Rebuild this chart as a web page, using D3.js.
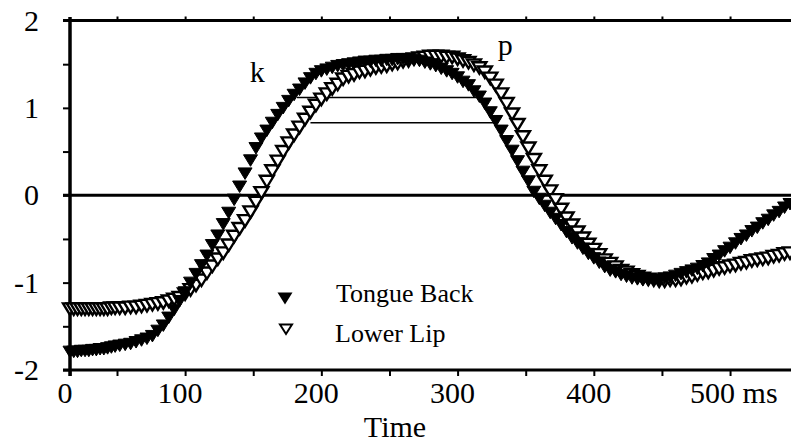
<!DOCTYPE html>
<html>
<head>
<meta charset="utf-8">
<script src="https://cdn.jsdelivr.net/npm/d3@7"></script>
<style>
  body { margin: 0; background: #fff; }
  svg text { font-family: "Liberation Serif", "Times New Roman", Times, serif; fill: #000; }
</style>
</head>
<body>
<svg width="791" height="443" font-family="Liberation Serif, Times New Roman, serif"></svg>
<script>
// sample times (ms)
const TIME = [
  0,4,8,12,16,20,24,28,32,36,
  40,44,48,52,56,60,64,68,72,76,
  80,84,88,92,96,100,104,108,112,116,
  120,124,128,132,136,140,144,148,152,156,
  160,164,168,172,176,180,184,188,192,196,
  200,204,208,212,216,220,224,228,232,236,
  240,244,248,252,256,260,264,268,272,276,
  280,284,288,292,296,300,304,308,312,316,
  320,324,328,332,336,340,344,348,352,356,
  360,364,368,372,376,380,384,388,392,396,
  400,404,408,412,416,420,424,428,432,436,
  440,444,448,452,456,460,464,468,472,476,
  480,484,488,492,496,500,504,508,512,516,
  520,524,528,532,536,540,544
];

const TONGUE_BACK = [
  -1.79,-1.79,-1.79,-1.78,-1.78,-1.78,-1.77,-1.77,-1.76,-1.76,
  -1.75,-1.74,-1.73,-1.72,-1.71,-1.70,-1.68,-1.66,-1.64,-1.61,
  -1.55,-1.49,-1.40,-1.31,-1.21,-1.11,-1.00,-0.90,-0.80,-0.69,
  -0.57,-0.46,-0.33,-0.20,-0.05,0.10,0.25,0.40,0.54,0.65,
  0.74,0.83,0.92,1.00,1.08,1.15,1.21,1.28,1.34,1.39,
  1.42,1.44,1.46,1.48,1.49,1.50,1.51,1.52,1.53,1.53,
  1.54,1.54,1.55,1.55,1.56,1.56,1.56,1.55,1.54,1.52,
  1.50,1.48,1.45,1.42,1.39,1.35,1.30,1.26,1.19,1.13,
  1.05,0.95,0.85,0.74,0.62,0.51,0.39,0.27,0.16,0.04,
  -0.04,-0.12,-0.20,-0.27,-0.34,-0.42,-0.49,-0.55,-0.61,-0.67,
  -0.72,-0.77,-0.82,-0.86,-0.88,-0.91,-0.93,-0.95,-0.96,-0.97,
  -0.97,-0.97,-0.97,-0.95,-0.94,-0.92,-0.90,-0.88,-0.86,-0.84,
  -0.81,-0.78,-0.73,-0.69,-0.64,-0.60,-0.55,-0.50,-0.46,-0.41,
  -0.37,-0.32,-0.28,-0.23,-0.19,-0.14,-0.10
];

const LOWER_LIP = [
  -1.30,-1.30,-1.30,-1.30,-1.30,-1.30,-1.30,-1.30,-1.30,-1.30,
  -1.30,-1.29,-1.29,-1.29,-1.29,-1.28,-1.28,-1.27,-1.26,-1.25,
  -1.24,-1.23,-1.21,-1.19,-1.17,-1.13,-1.08,-1.03,-0.97,-0.89,
  -0.81,-0.73,-0.66,-0.57,-0.47,-0.38,-0.29,-0.19,-0.08,0.03,
  0.16,0.28,0.39,0.50,0.60,0.69,0.78,0.87,0.95,1.03,
  1.10,1.16,1.22,1.27,1.33,1.36,1.38,1.41,1.42,1.44,
  1.46,1.47,1.48,1.50,1.51,1.53,1.54,1.56,1.57,1.58,
  1.59,1.59,1.59,1.58,1.58,1.56,1.54,1.52,1.49,1.46,
  1.41,1.34,1.26,1.16,1.05,0.93,0.81,0.67,0.54,0.41,
  0.28,0.16,0.05,-0.05,-0.16,-0.26,-0.34,-0.42,-0.49,-0.56,
  -0.62,-0.68,-0.74,-0.78,-0.82,-0.86,-0.88,-0.91,-0.93,-0.95,
  -0.96,-0.97,-0.98,-0.98,-0.97,-0.97,-0.96,-0.94,-0.93,-0.91,
  -0.89,-0.88,-0.86,-0.84,-0.83,-0.81,-0.80,-0.78,-0.77,-0.75,
  -0.74,-0.73,-0.72,-0.70,-0.69,-0.67,-0.66
];

const X_TICKS = [0,50,100,150,200,250,300,350,400,450,500];
const X_LABELS = [0,100,200,300,400,500];
const Y_TICKS = [-2,-1.5,-1,-0.5,0,0.5,1,1.5,2];
const Y_LABELS = [-2,-1,0,1,2];

// level lines: value, start ms, end ms
const LEVEL_V = [1.12, 0.83];
const LEVEL_FROM = [182, 192];
const LEVEL_TO = [315, 329];

const NOTE_TEXT = ["k", "p"];
const NOTE_T = [153, 335];
const NOTE_V = [1.30, 1.60];

const FONT = "Liberation Serif, Times New Roman, serif";

const svg = d3.select("svg");

const x = d3.scaleLinear().domain([0, 50, 544]).range([70, 117, 790]);
const y = d3.scaleLinear().domain([-2, 2]).range([370, 20.5]);

const left = 63, right = 791;

// ticks
const bottomAxis = svg.append("g")
  .attr("transform", "translate(0," + y(-2) + ")")
  .call(d3.axisBottom(x).tickValues(X_TICKS).tickSize(6).tickFormat(""));
const topAxis = svg.append("g")
  .attr("transform", "translate(0," + y(2) + ")")
  .call(d3.axisTop(x).tickValues(X_TICKS.filter(d => d > 0)).tickSize(4).tickFormat(""));
const leftAxis = svg.append("g")
  .attr("transform", "translate(" + x(0) + ",0)")
  .call(d3.axisLeft(y).tickValues(Y_TICKS).tickSize(7).tickFormat(""));

[bottomAxis, topAxis, leftAxis].forEach(g => {
  g.select(".domain").remove();
  g.selectAll(".tick line").attr("stroke", "#000").attr("stroke-width", 2);
});

// frame lines
svg.append("line").attr("x1", left).attr("x2", right).attr("y1", y(2)).attr("y2", y(2))
  .attr("stroke", "#000").attr("stroke-width", 3);
svg.append("line").attr("x1", left).attr("x2", right).attr("y1", y(-2)).attr("y2", y(-2))
  .attr("stroke", "#000").attr("stroke-width", 3);
svg.append("line").attr("x1", left).attr("x2", right).attr("y1", y(0)).attr("y2", y(0))
  .attr("stroke", "#000").attr("stroke-width", 3);
svg.append("line").attr("x1", x(0)).attr("x2", x(0)).attr("y1", 17).attr("y2", 376)
  .attr("stroke", "#000").attr("stroke-width", 3.5);

// level lines
svg.selectAll(".level")
  .data(LEVEL_V)
  .enter()
  .append("line")
  .classed("level", true)
  .attr("x1", (d, i) => x(LEVEL_FROM[i]))
  .attr("x2", (d, i) => x(LEVEL_TO[i]))
  .attr("y1", d => y(d))
  .attr("y2", d => y(d))
  .attr("stroke", "#000")
  .attr("stroke-width", 1.5);

// tick labels
svg.selectAll(".xlab")
  .data(X_LABELS)
  .enter()
  .append("text")
  .classed("xlab", true)
  .attr("font-family", FONT)
  .attr("font-size", 30)
  .attr("x", d => d === 500 ? x(d) - 40 : x(d) - 5)
  .attr("y", 403)
  .attr("text-anchor", d => d === 500 ? "start" : "middle")
  .text(d => d === 500 ? "500 ms" : d);

svg.selectAll(".ylab")
  .data(Y_LABELS)
  .enter()
  .append("text")
  .classed("ylab", true)
  .attr("font-family", FONT)
  .attr("font-size", 30)
  .attr("x", 39)
  .attr("y", d => y(d))
  .attr("dy", "0.34em")
  .attr("text-anchor", "end")
  .text(d => d);

svg.append("text")
  .attr("font-family", FONT)
  .attr("font-size", 30)
  .attr("x", 395)
  .attr("y", 437)
  .attr("text-anchor", "middle")
  .text("Time");

// markers
const triDown = "M-7,-5.5L7,-5.5L0,6Z";

svg.append("g").selectAll("path")
  .data(TIME)
  .enter()
  .append("path")
  .attr("d", triDown)
  .attr("transform", (d, i) => "translate(" + x(d) + "," + y(LOWER_LIP[i]) + ")")
  .attr("fill", "#fff")
  .attr("stroke", "#000")
  .attr("stroke-width", 2.4);

svg.append("g").selectAll("path")
  .data(TIME)
  .enter()
  .append("path")
  .attr("d", triDown)
  .attr("transform", (d, i) => "translate(" + x(d) + "," + y(TONGUE_BACK[i]) + ")")
  .attr("fill", "#000")
  .attr("stroke", "#000")
  .attr("stroke-width", 1);

// k / p notes
svg.selectAll(".note")
  .data(NOTE_TEXT)
  .enter()
  .append("text")
  .classed("note", true)
  .attr("font-family", FONT)
  .attr("font-size", 30)
  .attr("x", (d, i) => x(NOTE_T[i]))
  .attr("y", (d, i) => y(NOTE_V[i]))
  .attr("text-anchor", "middle")
  .text(d => d);

// legend
const legend = svg.append("g");
legend.append("path").attr("d", "M-7.5,-5.5L7.5,-5.5L0,6.5Z")
  .attr("transform", "translate(285,298)").attr("fill", "#000");
legend.append("path").attr("d", "M-6,-4.5L6,-4.5L0,5Z")
  .attr("transform", "translate(286,329)").attr("fill", "#fff")
  .attr("stroke", "#000").attr("stroke-width", 2);
legend.append("text").attr("font-family", FONT).attr("font-size", 26)
  .attr("x", 336).attr("y", 302).text("Tongue Back");
legend.append("text").attr("font-family", FONT).attr("font-size", 26)
  .attr("x", 335).attr("y", 342).text("Lower Lip");
</script>
</body>
</html>
